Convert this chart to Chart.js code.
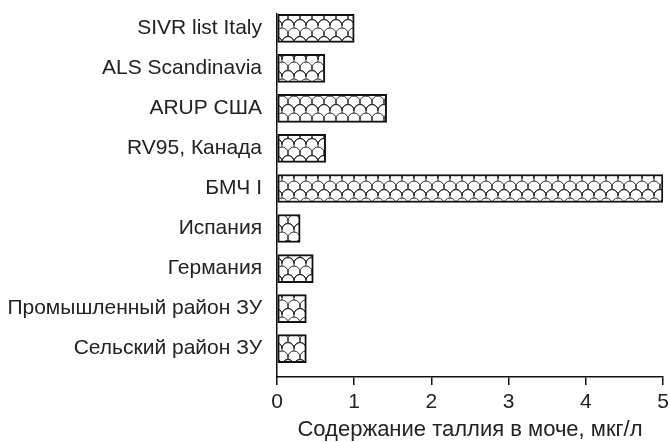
<!DOCTYPE html>
<html>
<head>
<meta charset="utf-8">
<script src="https://cdn.jsdelivr.net/npm/chart.js@4"></script>
<style>
  html, body { margin: 0; padding: 0; background: #fff; }
  #wrap { width: 670px; height: 442px; }
</style>
</head>
<body>
<div id="wrap"><canvas id="thallium-chart" width="670" height="442"></canvas></div>
<script>
const categories = [
    'SIVR list Italy',
    'ALS Scandinavia',
    'ARUP США',
    'RV95, Канада',
    'БМЧ I',
    'Испания',
    'Германия',
    'Промышленный район ЗУ',
    'Сельский район ЗУ'
];
const thalliumValues = [1.0, 0.62, 1.42, 0.63, 5.0, 0.30, 0.47, 0.38, 0.38];
const xTicks = [0, 1, 2, 3, 4, 5];
const axisTitle = 'Содержание таллия в моче, мкг/л';

// fish-scale fill like the original print: half circles + short stems
function scalePattern(ctx) {
    const w = 12, p = 8.5;
    const r = w / 2;
    const c = document.createElement('canvas');
    c.width = w;
    c.height = 2 * p;
    const g = c.getContext('2d');
    g.fillStyle = '#fff';
    g.fillRect(0, 0, c.width, c.height);
    g.strokeStyle = '#2a2a2a';
    g.lineWidth = 1;
    for (let ty = -1; ty <= 1; ty++) {
        for (let tx = -1; tx <= 1; tx++) {
            [[0, p], [w, p], [r, 2 * p]].forEach(([cx, cy]) => {
                const x = cx + tx * w, y = cy + ty * 2 * p;
                g.beginPath();
                g.arc(x, y, r, Math.PI, 2 * Math.PI);
                g.moveTo(x, y - r);
                g.lineTo(x, y - p);
                g.stroke();
            });
        }
    }
    return ctx.createPattern(c, 'repeat');
}

const ctx = document.getElementById('thallium-chart').getContext('2d');
const fam = '"Liberation Sans", Arial, sans-serif';

new Chart(ctx, {
    type: 'bar',
    data: {
        labels: categories,
        datasets: [{
            data: thalliumValues.map((v, i) => ({ x: v, y: i })),
            backgroundColor: scalePattern(ctx),
            borderColor: '#111',
            borderWidth: 2,
            borderSkipped: false,
            barThickness: 28
        }]
    },
    options: {
        indexAxis: 'y',
        responsive: false,
        animation: false,
        layout: { padding: { top: 14, right: 7, left: 0, bottom: 0 } },
        scales: {
            x: {
                type: 'linear',
                min: xTicks[0],
                max: xTicks[xTicks.length - 1],
                afterBuildTicks: s => { s.ticks = xTicks.map(v => ({ value: v })); },
                afterFit: s => { s.height = 65; s.paddingLeft = 0; s.paddingRight = 0; },
                grid: { drawOnChartArea: false, drawTicks: true, tickLength: 8, color: '#111', lineWidth: 1.5 },
                border: { display: true, color: '#111', width: 1.5 },
                ticks: { color: '#222', font: { family: fam, size: 21 }, padding: 5, maxRotation: 0 },
                title: {
                    display: true,
                    text: axisTitle,
                    color: '#222',
                    font: { family: fam, size: 22, lineHeight: 1 },
                    padding: { top: 0, bottom: 1 }
                }
            },
            y: {
                type: 'linear',
                offset: false,
                reverse: true,
                min: -0.357,
                max: 8.707,
                afterBuildTicks: s => { s.ticks = categories.map((_, i) => ({ value: i })); },
                afterFit: s => { s.width = 277; s.paddingTop = 0; s.paddingBottom = 0; },
                grid: { display: false, drawTicks: false, offset: false },
                border: { display: true, color: '#111', width: 1.5 },
                ticks: {
                    color: '#222',
                    font: { family: fam, size: 21 },
                    padding: 15,
                    autoSkip: false,
                    callback: v => categories[v]
                }
            }
        },
        plugins: {
            legend: { display: false },
            tooltip: { enabled: false }
        }
    }
});
</script>
</body>
</html>
